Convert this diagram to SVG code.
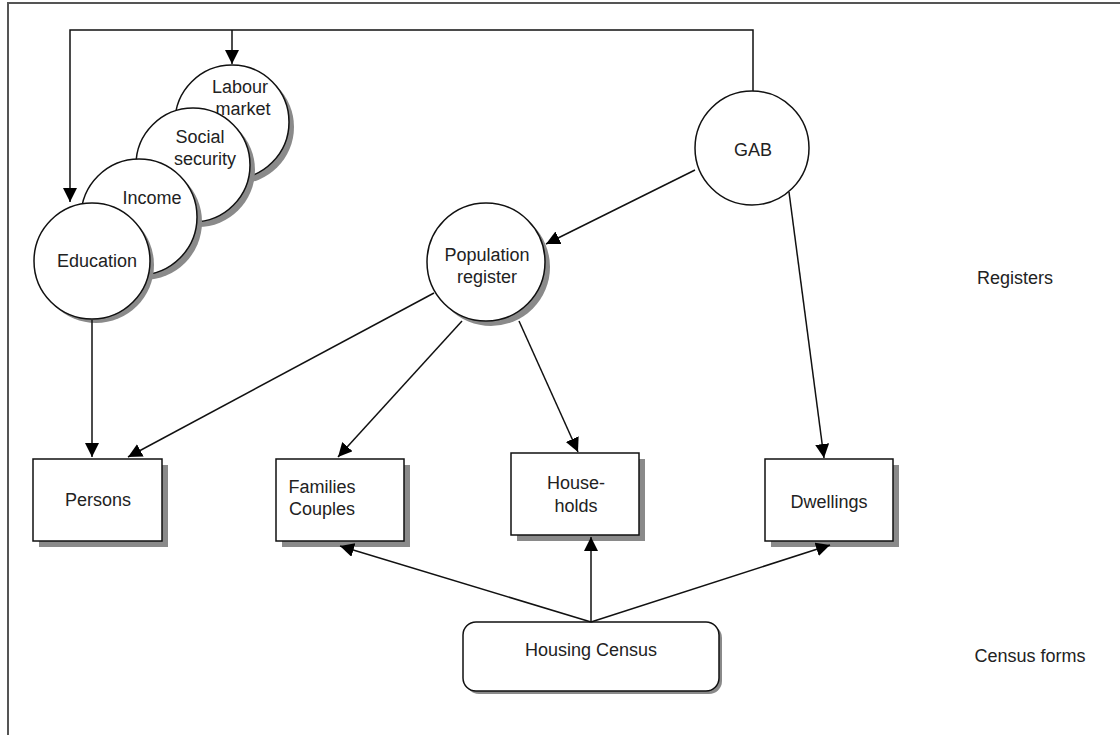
<svg xmlns="http://www.w3.org/2000/svg" width="1120" height="735" viewBox="0 0 1120 735">
  <defs>
    <marker id="arrow" markerUnits="userSpaceOnUse" markerWidth="16" markerHeight="16" refX="14" refY="7" orient="auto">
      <path d="M0,0 L14,7 L0,14 z" fill="#000"/>
    </marker>
    <style>
      .frame { stroke: #555; stroke-width: 2; fill: none; }
      .shadow { fill: #8a8a8a; stroke: none; }
      .node { fill: #fff; stroke: #111; stroke-width: 1.5; }
      .link { fill: none; stroke: #111; stroke-width: 1.5; }
      .arr { marker-end: url(#arrow); }
      text { font-family: "Liberation Sans", Arial, sans-serif; font-size: 18px; fill: #222; text-anchor: middle; }
    </style>
  </defs>
  <rect width="1120" height="735" fill="#fff"/>
  <!-- page frame: top and left edges only -->
  <path class="frame" d="M8,735 L8,3 L1120,3"/>

  <!-- stacked register circles, back to front -->
  <g id="labour-market">
    <circle class="shadow" cx="237" cy="127" r="57"/>
    <circle class="node" cx="232" cy="122" r="57"/>
    <text x="240" y="93">Labour</text>
    <text x="243" y="115">market</text>
  </g>
  <g id="social-security">
    <circle class="shadow" cx="198" cy="170" r="57"/>
    <circle class="node" cx="193" cy="165" r="57"/>
    <text x="200" y="143">Social</text>
    <text x="205" y="165">security</text>
  </g>
  <g id="income">
    <circle class="shadow" cx="144" cy="222" r="58"/>
    <circle class="node" cx="139" cy="217" r="58"/>
    <text x="152" y="204">Income</text>
  </g>
  <g id="education">
    <circle class="shadow" cx="96" cy="265" r="58"/>
    <circle class="node" cx="92" cy="261" r="58"/>
    <text x="97" y="267">Education</text>
  </g>

  <g id="gab">
    <circle class="node" cx="752" cy="148" r="57"/>
    <text x="753" y="156">GAB</text>
  </g>

  <g id="population-register">
    <circle class="shadow" cx="491" cy="267" r="59"/>
    <circle class="node" cx="486" cy="262" r="59"/>
    <text x="487" y="261">Population</text>
    <text x="487" y="283">register</text>
  </g>

  <!-- statistical units -->
  <g id="persons">
    <rect class="shadow" x="39" y="465" width="129" height="82"/>
    <rect class="node" x="33" y="459" width="129" height="82"/>
    <text x="98" y="506">Persons</text>
  </g>
  <g id="families-couples">
    <rect class="shadow" x="282" y="465" width="128" height="82"/>
    <rect class="node" x="276" y="459" width="128" height="82"/>
    <text x="322" y="493">Families</text>
    <text x="322" y="515">Couples</text>
  </g>
  <g id="households">
    <rect class="shadow" x="517" y="459" width="128" height="82"/>
    <rect class="node" x="511" y="453" width="128" height="82"/>
    <text x="576" y="489">House-</text>
    <text x="576" y="512">holds</text>
  </g>
  <g id="dwellings">
    <rect class="shadow" x="771" y="465" width="128" height="82"/>
    <rect class="node" x="765" y="459" width="128" height="82"/>
    <text x="829" y="508">Dwellings</text>
  </g>

  <g id="housing-census">
    <rect class="shadow" x="466" y="625" width="256" height="69" rx="13"/>
    <rect class="node" x="463" y="622" width="256" height="69" rx="13"/>
    <text x="591" y="656">Housing Census</text>
  </g>

  <!-- row labels -->
  <g id="label-registers"><text x="1015" y="284">Registers</text></g>
  <g id="label-census-forms"><text x="1030" y="662">Census forms</text></g>

  <g id="connectors">
    <!-- GAB feeds the upper registers -->
    <path class="link" d="M753,91 L753,30 L70,30 L70,202" marker-end="url(#arrow)"/>
    <path class="link arr" d="M232,30 L232,64"/>
    <path class="link arr" d="M695,170 L546,244"/>
    <path class="link arr" d="M789,192 L824,458"/>
    <!-- registers to units -->
    <path class="link arr" d="M92,320 L92,457"/>
    <path class="link arr" d="M434,293 L128,457"/>
    <path class="link arr" d="M462,321 L338,457"/>
    <path class="link arr" d="M519,321 L578,452"/>
    <!-- census forms to units -->
    <path class="link arr" d="M591,622 L340,546"/>
    <path class="link arr" d="M591,622 L591,537"/>
    <path class="link arr" d="M591,622 L830,545"/>
  </g>
</svg>
